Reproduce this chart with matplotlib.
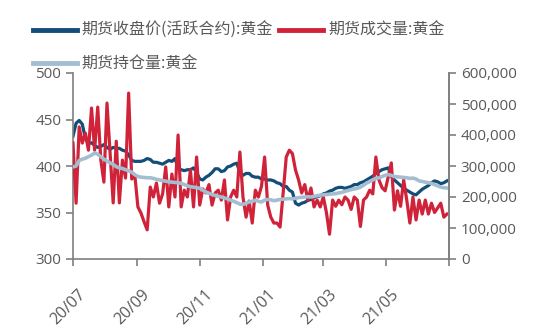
import pandas as pd
import matplotlib
from matplotlib import pyplot as plt
from matplotlib import transforms
from matplotlib.ticker import FuncFormatter

matplotlib.use("agg")

# sampled every 3 days from 2020-07-01
dates = pd.date_range("2020-07-01", periods=122, freq="3D")

price = [432, 446, 449, 445, 430, 424, 425, 422, 420, 421,
         423, 420, 418, 420, 419, 419, 417, 416, 412, 406,
         405, 405, 405, 406, 408, 407, 404, 404, 403, 402,
         404, 406, 405, 408, 398, 396, 395, 396, 396, 398,
         393, 386, 385, 388, 390, 393, 397, 397, 394, 395,
         399, 400, 402, 403, 393, 390, 392, 392, 389, 388,
         388, 386, 386, 385, 385, 384, 382, 381, 378, 378,
         374, 372, 360, 358, 360, 361, 363, 364, 366, 367,
         368, 370, 371, 373, 374, 376, 377, 377, 376, 377,
         378, 380, 380, 382, 383, 385, 387, 389, 392, 394,
         396, 397, 398, 389, 385, 382, 379, 376, 374, 372,
         370, 369, 372, 375, 377, 379, 382, 384, 383, 381,
         382, 384]

volume = [374, 180, 426, 374, 406, 351, 487, 351, 490, 320,
          248, 503, 342, 181, 380, 181, 319, 261, 535, 258,
          271, 168, 148, 120, 94, 232, 200, 245, 180, 210,
          297, 168, 274, 200, 400, 168, 222, 200, 287, 168,
          329, 174, 226, 213, 240, 174, 213, 222, 190, 255,
          126, 200, 222, 200, 345, 200, 135, 187, 116, 222,
          200, 235, 329, 174, 135, 116, 116, 103, 213, 329,
          351, 340, 287, 255, 213, 240, 190, 229, 168, 190,
          168, 200, 150, 80, 190, 170, 190, 175, 200, 190,
          160, 200, 190, 105, 190, 200, 222, 210, 329, 255,
          230, 220, 265, 310, 158, 220, 170, 255, 190, 116,
          200, 126, 190, 145, 190, 145, 180, 150, 165, 180,
          135, 145]

holding = [297, 300, 318, 322, 325, 330, 335, 342, 338, 330,
           322, 316, 310, 305, 298, 294, 292, 288, 285, 280,
           272, 266, 264, 263, 262, 262, 260, 257, 255, 253,
           251, 249, 248, 247, 246, 244, 240, 236, 233, 232,
           230, 228, 222, 216, 212, 208, 205, 202, 200, 197,
           194, 190, 186, 182, 177, 176, 180, 184, 186, 190,
           186, 184, 190, 192, 191, 188, 190, 192, 193, 194,
           195, 194, 196, 198, 199, 200, 201, 200, 202, 204,
           206, 207, 208, 209, 210, 211, 213, 215, 218, 221,
           224, 226, 228, 232, 238, 245, 250, 255, 260, 262,
           266, 270, 272, 270, 266, 265, 264, 263, 262, 260,
           261, 258, 252, 250, 248, 246, 244, 240, 236, 232,
           230, 229]

labels = ["期货收盘价(活跃合约):黄金", "期货成交量:黄金", "期货持仓量:黄金"]
tick_dates = pd.date_range("2020-07-01", "2021-07-01", freq="2MS")

colors = ["#134e79", "#d0233a", "#a3bed1"]
grey = "#595959"
spine_grey = "#7f7f7f"

plt.rcParams["font.family"] = ["Noto Sans CJK SC", "DejaVu Sans"]

fig = plt.figure(figsize=(5.5, 3.35), dpi=100)
ax = fig.add_axes([73 / 550, 1 - 259 / 335, 376 / 550, 186 / 335])
ax2 = ax.twinx()

l1, = ax.plot(dates, price, color=colors[0], lw=2.3)
l2, = ax2.plot(dates, [v * 1000 for v in volume], color=colors[1], lw=2.3)
l3, = ax2.plot(dates, [v * 1000 for v in holding], color=colors[2], lw=2.6)

ax.set_ylim(300, 500)
ax.set_yticks([300, 350, 400, 450, 500])
ax2.set_ylim(0, 600000)
ax2.set_yticks(range(0, 600001, 100000))
ax2.yaxis.set_major_formatter(FuncFormatter(lambda v, p: f"{int(v):,}"))

ax.set_xlim(pd.Timestamp("2020-07-01"), pd.Timestamp("2021-07-01"))
ax.set_xticks(tick_dates)
ax.set_xticklabels([d.strftime("%y/%m") if d.year * 100 + d.month < 202107 else "" for d in tick_dates])

for a in (ax, ax2):
    for s in a.spines.values():
        s.set_color(spine_grey)
        s.set_linewidth(1.2)
    a.spines["top"].set_visible(False)
    a.tick_params(colors=spine_grey, labelcolor=grey, labelsize=11, length=5, width=1.2)
    for t in a.get_yticklabels():
        t.set_family(["Open Sans", "DejaVu Sans"])
ax2.spines["left"].set_visible(False)
ax2.spines["bottom"].set_visible(False)

ax.tick_params(axis="x", pad=15, labelsize=11.5)
shift = transforms.ScaledTranslation(5 / 100, 0, fig.dpi_scale_trans)
for t in ax.get_xticklabels():
    t.set_rotation(45)
    t.set_ha("right")
    t.set_va("top")
    t.set_rotation_mode("anchor")
    t.set_family(["Open Sans", "DejaVu Sans"])
    t.set_transform(t.get_transform() + shift)

fig.legend([l1, l3, l2], [labels[0], labels[2], labels[1]], ncol=2,
           loc="upper left", bbox_to_anchor=(25 / 550, 1 - 14 / 335),
           frameon=False, borderpad=0, fontsize=11.5, labelcolor=grey,
           handlelength=2.75, handletextpad=0.3, columnspacing=0.4,
           labelspacing=1.05)
for line in fig.legends[0].get_lines():
    line.set_linewidth(3.5)

plt.savefig("out.png", dpi=100)
